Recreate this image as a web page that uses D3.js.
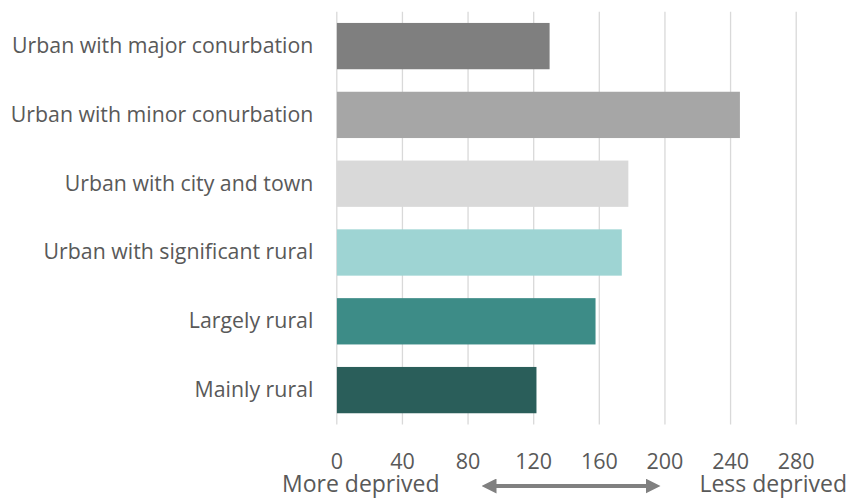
<!DOCTYPE html>
<html>
<head>
<meta charset="utf-8">
<script src="https://cdn.jsdelivr.net/npm/d3@7"></script>
<style>
  html, body { margin: 0; padding: 0; background: #fff; }
  svg { display: block; }
  text { font-family: "Open Sans", sans-serif; fill: #595959; }
</style>
</head>
<body>
<svg id="chart" width="850" height="498"></svg>
<script>
const categories = [
  "Urban with major conurbation",
  "Urban with minor conurbation",
  "Urban with city and town",
  "Urban with significant rural",
  "Largely rural",
  "Mainly rural"
];
const values = [130, 246, 178, 174, 158, 122];
const barColors = ["#7f7f7f", "#a6a6a6", "#d9d9d9", "#9ed4d3", "#3d8c87", "#2a5e5a"];
const tickValues = [0, 40, 80, 120, 160, 200, 240, 280];
const leftLabel = "More deprived";
const rightLabel = "Less deprived";

const svg = d3.select("#chart");
const margin = { left: 336.3, right: 54.3, top: 11.7, bottom: 73.5 };
const W = 850, H = 498;

const x = d3.scaleLinear().domain([0, 280]).range([margin.left, W - margin.right]);
const y = d3.scaleBand().domain(categories).range([margin.top, H - margin.bottom]).paddingInner(0.327).paddingOuter(0.1635);

// gridlines + tick labels
const xAxis = d3.axisBottom(x)
  .tickValues(tickValues)
  .tickSize(-(H - margin.bottom - margin.top))
  .tickPadding(10)
  .tickFormat(d3.format("d"));
const gx = svg.append("g")
  .attr("transform", `translate(0,${H - margin.bottom})`)
  .call(xAxis);
gx.select(".domain").remove();
gx.selectAll(".tick line").attr("stroke", "#d9d9d9").attr("stroke-width", 1.3);
gx.selectAll(".tick text")
  .attr("dy", null)
  .attr("y", 468.5 - (H - margin.bottom))
  .style("font-size", "21.5px").style("fill", "#595959");

// bars
svg.append("g").selectAll("rect")
  .data(categories)
  .join("rect")
  .attr("x", x(0) + 0.6)
  .attr("y", d => y(d))
  .attr("width", (d, i) => x(values[i]) - x(0) - 0.6)
  .attr("height", y.bandwidth())
  .attr("fill", (d, i) => barColors[i]);

// category labels
const yAxis = d3.axisLeft(y).tickSize(0).tickPadding(23);
const gy = svg.append("g").attr("transform", `translate(${margin.left},0)`).call(yAxis);
gy.select(".domain").remove();
gy.selectAll(".tick text").style("font-size", "21.3px").style("fill", "#595959");

// bottom labels
svg.append("text").attr("x", 282).attr("y", 492).attr("text-anchor", "start")
  .style("font-size", "23px").text(leftLabel);
svg.append("text").attr("x", 847).attr("y", 492).attr("text-anchor", "end")
  .style("font-size", "23px").text(rightLabel);

// double-headed arrow
const defs = svg.append("defs");
["start", "end"].forEach(k => {
  defs.append("marker")
    .attr("id", "arrow-" + k)
    .attr("viewBox", "0 0 10 10")
    .attr("refX", 5).attr("refY", 5)
    .attr("markerUnits", "userSpaceOnUse")
    .attr("markerWidth", 15).attr("markerHeight", 15)
    .attr("orient", k === "start" ? "auto-start-reverse" : "auto")
    .append("path").attr("d", "M0,0 L10,5 L0,10 Z").attr("fill", "#808080");
});
svg.append("line")
  .attr("x1", 489).attr("x2", 653).attr("y1", 486).attr("y2", 486)
  .attr("stroke", "#808080").attr("stroke-width", 4)
  .attr("marker-start", "url(#arrow-start)")
  .attr("marker-end", "url(#arrow-end)");
</script>
</body>
</html>
